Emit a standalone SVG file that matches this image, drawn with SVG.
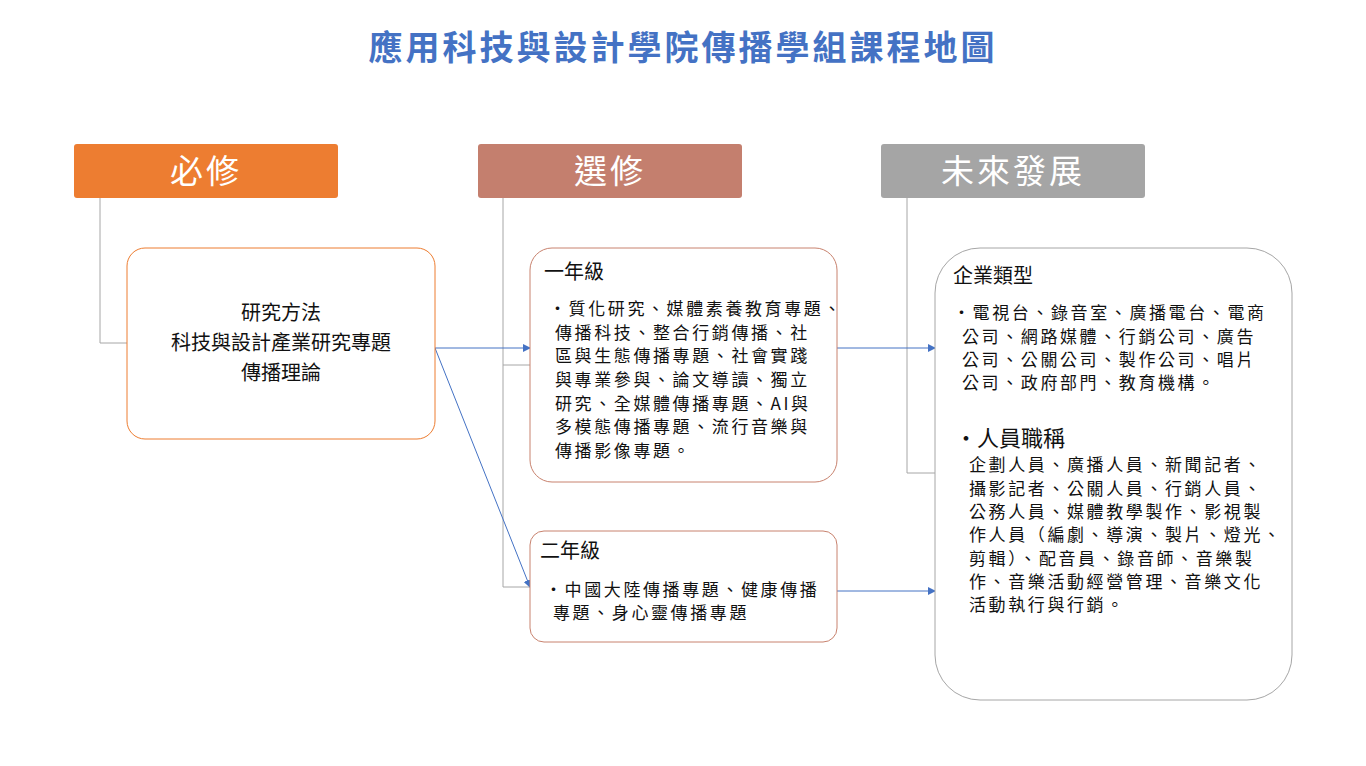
<svg xmlns="http://www.w3.org/2000/svg" width="1366" height="766" viewBox="0 0 1366 766">
<style>
text{font-family:"Noto Sans CJK TC","Noto Sans CJK SC",sans-serif;fill:#111}
.t{font-size:17px;letter-spacing:2.6px}
.h{font-size:20px}
.hd{font-size:33px;fill:#fff;text-anchor:middle;letter-spacing:3px}
.g{stroke:#A6A6A6;stroke-width:1;fill:none}
.b{stroke:#4472C4;stroke-width:1;fill:none;marker-end:url(#a)}
</style>
<defs><marker id="a" markerWidth="8" markerHeight="8" refX="7" refY="4" orient="auto" markerUnits="userSpaceOnUse"><path d="M0,0L8,4L0,8z" fill="#4472C4"/></marker></defs>
<rect width="1366" height="766" fill="#fff"/>
<text x="683" y="60" text-anchor="middle" style="font-size:34px;font-weight:bold;fill:#4472C4;letter-spacing:3px">應用科技與設計學院傳播學組課程地圖</text>
<g id="connectors">
<path class="g" d="M100,198V343H127"/>
<path class="g" d="M503,198V587H530M503,365H530"/>
<path class="g" d="M907,198V473H935"/>
<path class="b" d="M435,348H530"/>
<path class="b" d="M435,348L530,587"/>
<path class="b" d="M837,348H935"/>
<path class="b" d="M837,591H935"/>
</g>
<g id="required"><rect x="74" y="144" width="264" height="54" rx="3" fill="#ED7D31"/><text class="hd" x="206" y="183">必修</text></g>
<g id="elective"><rect x="478" y="144" width="264" height="54" rx="3" fill="#C47F6E"/><text class="hd" x="610" y="183">選修</text></g>
<g id="future"><rect x="881" y="144" width="264" height="54" rx="3" fill="#A5A5A5"/><text class="hd" x="1013" y="183">未來發展</text></g>
<g id="core"><rect x="127" y="248" width="308" height="191" rx="18" fill="#fff" stroke="#ED7D31"/>
<text class="h" text-anchor="middle"><tspan x="281" y="320">研究方法</tspan><tspan x="281" y="350">科技與設計產業研究專題</tspan><tspan x="281" y="380">傳播理論</tspan></text></g>
<g id="year1"><rect x="530" y="248" width="307" height="234" rx="22" fill="#fff" stroke="#C8826E"/>
<text class="h" x="544" y="279">一年級</text>
<text class="t"><tspan x="549" y="315">・質化研究、媒體素養教育專題、</tspan><tspan x="555" y="339">傳播科技、整合行銷傳播、社</tspan><tspan x="555" y="362">區與生態傳播專題、社會實踐</tspan><tspan x="555" y="386">與專業參與、論文導讀、獨立</tspan><tspan x="555" y="410">研究、全媒體傳播專題、AI與</tspan><tspan x="555" y="433">多模態傳播專題、流行音樂與</tspan><tspan x="555" y="457">傳播影像專題。</tspan></text></g>
<g id="year2"><rect x="530" y="531" width="307" height="111" rx="14" fill="#fff" stroke="#C8826E"/>
<text class="h" x="540" y="558">二年級</text>
<text class="t"><tspan x="545" y="596">・中國大陸傳播專題、健康傳播</tspan><tspan x="553" y="619">專題、身心靈傳播專題</tspan></text></g>
<g id="career"><rect x="935" y="248" width="357" height="452" rx="45" fill="#fff" stroke="#A6A6A6"/>
<text class="h" x="953" y="283">企業類型</text>
<text class="t"><tspan x="953" y="319">・電視台、錄音室、廣播電台、電商</tspan><tspan x="962" y="343">公司、網路媒體、行銷公司、廣告</tspan><tspan x="962" y="366">公司、公關公司、製作公司、唱片</tspan><tspan x="962" y="389">公司、政府部門、教育機構。</tspan></text>
<text x="955" y="446" style="font-size:22px">・人員職稱</text>
<text class="t"><tspan x="969" y="471">企劃人員、廣播人員、新聞記者、</tspan><tspan x="969" y="495">攝影記者、公關人員、行銷人員、</tspan><tspan x="969" y="518">公務人員、媒體教學製作、影視製</tspan><tspan x="969" y="541">作人員（編劇、導演、製片、燈光、</tspan><tspan x="969" y="565">剪輯）、配音員、錄音師、音樂製</tspan><tspan x="969" y="588">作、音樂活動經營管理、音樂文化</tspan><tspan x="969" y="611">活動執行與行銷。</tspan></text></g>
</svg>
